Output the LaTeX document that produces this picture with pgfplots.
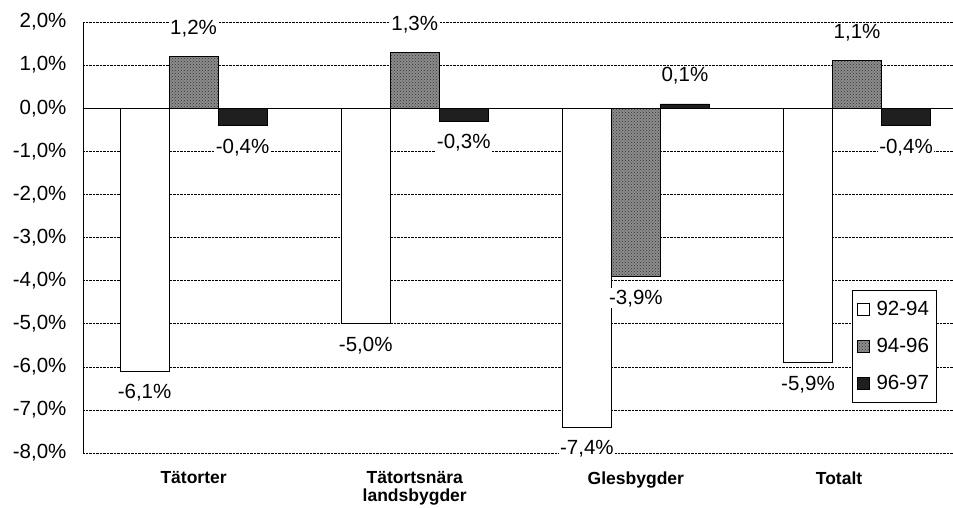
\documentclass[border=0pt]{standalone}
\usepackage{pgfplots}
\pgfplotsset{compat=1.18}
\usepackage{fontspec}
\setmainfont{Liberation Sans}
\usetikzlibrary{patterns}
\newcommand{\tf}{\fontsize{20.5}{24}\selectfont}
\begin{document}
\begin{tikzpicture}
\begin{axis}[
  name=ax,
  at={(0,0)}, anchor=south west,
  scale only axis,
  width=870pt, height=431pt,
  ymin=-8, ymax=2,
  xmin=-0.5, xmax=3.434,
  ytick={-8,-7,...,2},
  /pgf/number format/assume math mode=true,
  yticklabel={\pgfmathprintnumber[fixed,fixed zerofill,precision=1,use comma]{\tick}\%},
  yticklabel style={font=\tf, xshift=-13pt},
  xtick={0,1,2,3},
  xticklabels={Tätorter,{Tätortsnära\\landsbygder},Glesbygder,{Totalt\hspace*{36pt}}},
  xticklabel style={font=\bfseries\fontsize{17.5}{18}\selectfont, align=center, anchor=north, yshift=-15pt},
  major tick length=0pt,
  axis x line*=bottom, axis y line*=left,
  x axis line style={draw=none},
  y axis line style={black, line width=0.8pt},
  ymajorgrids,
  grid style={densely dotted, black, line width=0.6pt},
  extra y ticks={0},
  extra y tick labels={},
  extra y tick style={grid style={solid, black, line width=0.9pt}},
  ybar=0pt,
  bar width=0.2216,
  clip=false,
  visualization depends on={y \as \rawy},
  nodes near coords={\pgfmathprintnumber[fixed,fixed zerofill,precision=1,use comma]{\pgfplotspointmeta}\%},
  every node near coord/.append style={font=\tf, fill=white, inner sep=1.5pt, outer sep=12pt,
    yshift={ifthenelse(\rawy>0,6,0)}},
  legend style={at={(0.8836,0.378)}, anchor=north west, draw=black, line width=0.6pt,
    font=\tf, inner xsep=5pt, inner ysep=9pt, row sep=17pt, cells={anchor=west}},
  legend image code/.code={\draw[#1, line width=0.5pt] (2pt,-6pt) rectangle (14pt,6pt); \path (19pt,0pt);},
]
\addplot[draw=black, line width=0.6pt, fill=white] coordinates {(0,-6.1) (1,-5.0) (2,-7.4) (3,-5.9)};
\addplot[draw=black, line width=0.6pt, fill=black!45, postaction={pattern=crosshatch dots, pattern color=black!80}] coordinates {(0,1.2) (1,1.3) (2,-3.9) (3,1.1)};
\addplot[draw=black, line width=0.6pt, fill=black!88] coordinates {(0,-0.4) (1,-0.3) (2,0.1) (3,-0.4)};
\legend{92-94,94-96,96-97}
\end{axis}
\pgfresetboundingbox
\path[use as bounding box] ([xshift=-83pt,yshift=-54pt]ax.south west) rectangle ([yshift=22pt]ax.north east);
\end{tikzpicture}
\end{document}
